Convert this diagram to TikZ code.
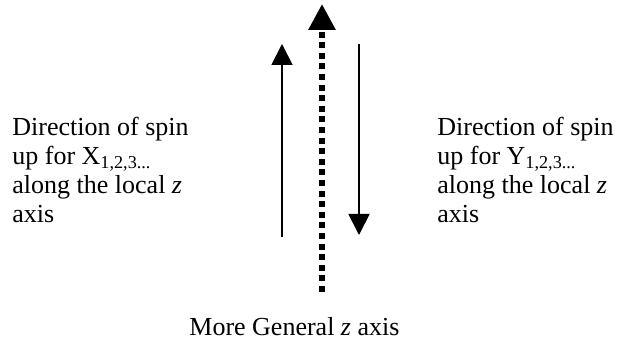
\documentclass[tikz,border=0pt]{standalone}
\usepackage{fontspec}
\setmainfont{Liberation Serif}
\usetikzlibrary{arrows.meta}
\tikzset{spin text/.style={align=left,inner sep=0pt,font=\fontsize{13}{14.5}\selectfont},
         spin arrow/.style={draw,line width=0.9pt,-{Triangle[length=10.5pt,width=10.5pt]}},
         axis arrow/.style={draw,line width=3pt,dash pattern=on 3pt off 2.3pt,-{Triangle[length=13pt,width=13pt]}},
            }

\begin{document}
\begin{tikzpicture}[x=0.5pt,y=-0.5pt]
    \useasboundingbox (0,0) rectangle (621,351);

    \node[spin text,anchor=north west] (X) at (12,117)
        {Direction of spin\\up for X\textsubscript{1,2,3...}\\along the local \textit{z}\\axis};
    \node[spin text,anchor=north west] (Y) at (437,117)
        {Direction of spin\\up for Y\textsubscript{1,2,3...}\\along the local \textit{z}\\axis};
    \node[spin text,anchor=base west] (Z) at (189,336) {More General \textit{z} axis};

    \coordinate (1) at (282,237);
    \coordinate (2) at (282,44);
    \coordinate (3) at (322,292);
    \coordinate (4) at (322,4);
    \coordinate (5) at (359,44);
    \coordinate (6) at (359,235);

    \path[spin arrow] (1) -- (2);
    \path[axis arrow] (3) -- (4);
    \path[spin arrow] (5) -- (6);

\end{tikzpicture}
\end{document}
